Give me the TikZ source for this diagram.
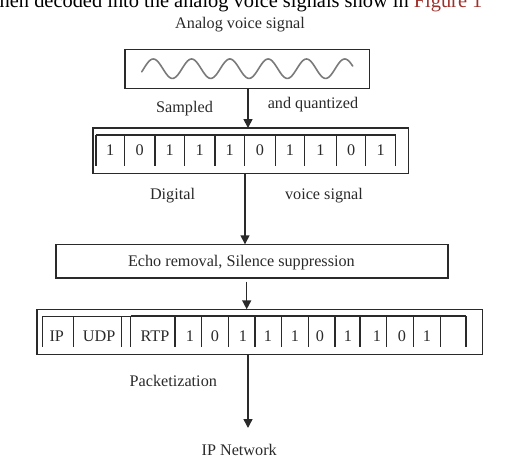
\documentclass[tikz,border=0pt]{standalone}
\usepackage{fontspec}
\setmainfont{Liberation Serif}
\usetikzlibrary{arrows.meta}
\definecolor{ink}{HTML}{2A2A2A}
\definecolor{wavegray}{HTML}{7A7A7A}
\definecolor{figred}{RGB}{158,48,44}
\tikzset{
  frame/.style={draw=ink, line width=1.6pt, inner sep=0pt, outer sep=0pt},
  cellline/.style={draw=ink, line width=1.5pt},
  flow/.style={draw=ink, line width=1.5pt, -{Triangle[width=9pt,length=9pt]}},
  lbl/.style={anchor=base, inner sep=0pt, text=ink, font=\fontsize{16.2}{19}\selectfont},
}
\begin{document}
\begin{tikzpicture}[x=1pt, y=-1pt]
\useasboundingbox (0,0) rectangle (507,466);

% running text of the page above the figure
\node[anchor=base west, inner sep=0pt, text=black, font=\fontsize{20.4}{24}\selectfont]
  (runin) at (-0.5,7) {hen decoded into the analog voice signals show in \textcolor{figred}{Figure 1}};

% analog signal
\node[lbl] (analog) at (240,28) {Analog voice signal};
\node[frame, minimum width=244.3pt, minimum height=39pt] (wave) at (247.2,68.8) {};
% period 38.3 -> 360/38.3 = 9.3995 degrees per unit
\draw[wavegray, line width=1.6pt, line cap=round]
  plot[domain=141.7:352.7, samples=220, smooth] (\x, {68.7 - 9.7*sin(9.3995*(\x-143.7))});

% sampling
\coordinate (a1) at (248,0);
\node[lbl] (sampled) at (184.5,112) {Sampled};
\node[lbl] (quant) at (313,108.5) {and quantized};

% digital word
\node[frame, minimum width=315.6pt, minimum height=45.3pt] (dig) at (250.5,150.7) {};
\draw[ink, line width=1.5pt] (96,135) -- (395.7,135);
\foreach \b in {96,124.3,155,184.3,215,244.3,275.7,304.3,336.7,365.7,395.7}
  \draw[cellline] (\b,135) -- (\b,166);
\foreach \c/\d [count=\i] in {110.2/1,139.7/0,169.7/1,199.7/1,229.7/1,260/0,290/1,320.5/1,351.2/0,380.7/1}
  \node[lbl] (bit\i) at (\c,155.5) {\d};
\node[lbl] (digital) at (172.5,199) {Digital};
\node[lbl] (vsig) at (324,199) {voice signal};
\coordinate (a2) at (245,0);

% processing
\node[frame, minimum width=392pt, minimum height=33.4pt] (echo) at (252,261) {};
\node[lbl] (echotxt) at (241.4,266) {Echo removal, Silence suppression};
\coordinate (a3) at (246.7,281.7);

% packet: IP/UDP header group, then RTP + payload group
\node[frame, minimum width=445.3pt, minimum height=45pt] (pkt) at (259.7,331.8) {};
\draw[ink, line width=1.4pt] (42.7,316.5) -- (130.5,316.5);
\draw[ink, line width=2.2pt] (130.5,316.3) -- (466,316.3);
\foreach \b in {42.7,73.3,121.7,130.5,175,201.7,228.3,255,281.7,308.3,335,360,386.7,413.3,440.7,466}
  \draw[cellline] (\b,316) -- (\b,346.7);
\node[lbl] (hip) at (56.8,341.5) {IP};
\node[lbl] (hudp) at (99.2,341.5) {UDP};
\node[lbl] (hrtp) at (155,341.5) {RTP};
\foreach \c/\d [count=\i] in {190/1,215/0,243/1,268/1,295/1,320/0,348/1,377/1,402/0,427/1}
  \node[lbl] (pbit\i) at (\c,341.5) {\d};
\node[lbl] (packz) at (173.3,386.7) {Packetization};
\coordinate (a4) at (248,0);

% network
\node[lbl] (net) at (239.2,455) {IP Network};
\coordinate (nettop) at (248,428);

% flow
\draw[flow] (wave.south -| a1) -- (dig.north -| a1);
\draw[flow] (dig.south -| a2) -- (echo.north -| a2);
\draw[flow] (a3) -- (pkt.north -| a3);
\draw[flow] (pkt.south -| a4) -- (nettop);
\end{tikzpicture}
\end{document}
